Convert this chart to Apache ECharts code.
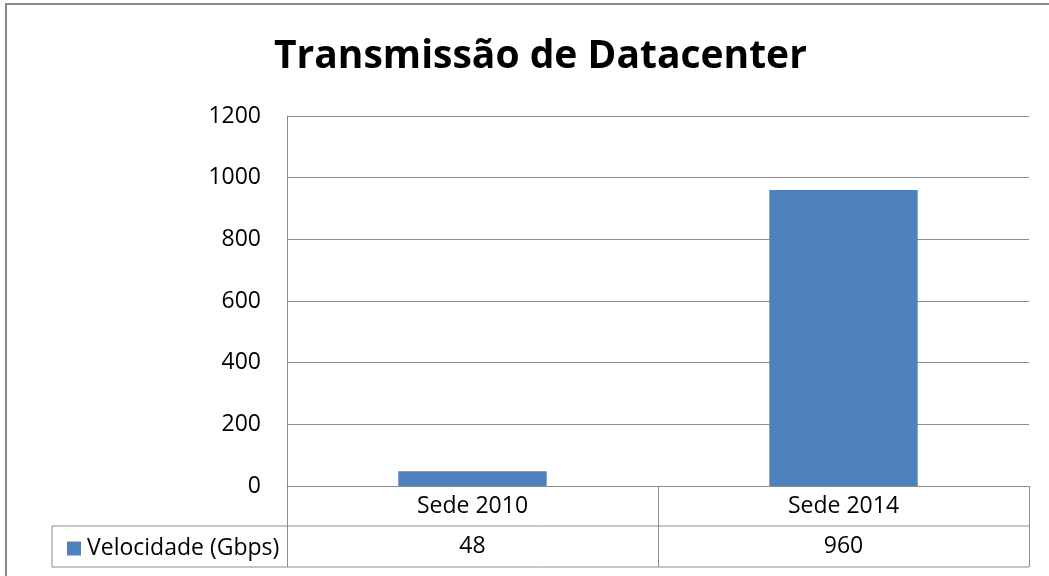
<!DOCTYPE html>
<html>
<head>
<meta charset="utf-8">
<script src="https://cdn.jsdelivr.net/npm/echarts@6/dist/echarts.min.js"></script>
<style>
html,body{margin:0;padding:0;background:#fff;}
#chart{width:1049px;height:576px;}
</style>
</head>
<body>
<div id="chart"></div>
<script>
const titleText = 'Transmissão de Datacenter';
const categories = ['Sede 2010', 'Sede 2014'];
const seriesName = 'Velocidade (Gbps)';
const values = [48, 960];
const yTicks = [0, 200, 400, 600, 800, 1000, 1200];

const FONT = '"Open Sans", sans-serif';
const GRAY = '#8c8c8c';
const chart = echarts.init(document.getElementById('chart'));
const option = {
  backgroundColor: '#fff',
  animation: false,
  title: {
    text: titleText,
    left: 269,
    top: 32,
    textStyle: { fontFamily: FONT, fontWeight: 'bold', fontSize: 39, color: '#000' }
  },
  legend: {
    data: [seriesName],
    left: 62,
    top: 532,
    icon: 'rect',
    itemWidth: 14,
    itemHeight: 14,
    itemGap: 5,
    textStyle: { fontFamily: FONT, fontSize: 23, color: '#000', padding: [0, 0, 0, 1] }
  },
  grid: { left: 287, right: 20, top: 116, bottom: 90, containLabel: false },
  xAxis: {
    type: 'category',
    data: categories,
    axisLine: { show: true, lineStyle: { color: GRAY, width: 1 } },
    axisTick: { show: true, length: 81, interval: 0, lineStyle: { color: GRAY, width: 1 } },
    axisLabel: {
      interval: 0,
      margin: 0,
      formatter: function (v, i) { return '{a|' + v + '}\n{b|' + values[i] + '}'; },
      rich: {
        a: { fontFamily: FONT, fontSize: 23, color: '#000', lineHeight: 40, height: 40 },
        b: { fontFamily: FONT, fontSize: 23, color: '#000', lineHeight: 40, height: 40 }
      }
    }
  },
  yAxis: {
    type: 'value',
    min: yTicks[0],
    max: yTicks[yTicks.length - 1],
    interval: 200,
    axisLine: { show: true, lineStyle: { color: GRAY, width: 1 } },
    axisTick: { show: false },
    axisLabel: { margin: 26, fontFamily: FONT, fontSize: 23, color: '#000', formatter: function (v) { return String(v); } },
    splitLine: { show: true, lineStyle: { color: GRAY, width: 1 } }
  },
  series: [{
    name: seriesName,
    type: 'bar',
    data: values,
    barWidth: '40%',
    itemStyle: { color: '#4F81BD' }
  }],
  graphic: [
    { type: 'rect', shape: { x: 6, y: 4, width: 1100, height: 700 }, style: { fill: 'none', stroke: '#8a8a8a', lineWidth: 2 }, silent: true },
    { type: 'line', shape: { x1: 52, y1: 526, x2: 1029, y2: 526 }, style: { stroke: GRAY, lineWidth: 1 } },
    { type: 'line', shape: { x1: 52, y1: 567, x2: 1029, y2: 567 }, style: { stroke: GRAY, lineWidth: 1 } },
    { type: 'line', shape: { x1: 52, y1: 526, x2: 52, y2: 567 }, style: { stroke: GRAY, lineWidth: 1 } }
  ]
};
chart.setOption(option);
</script>
</body>
</html>
